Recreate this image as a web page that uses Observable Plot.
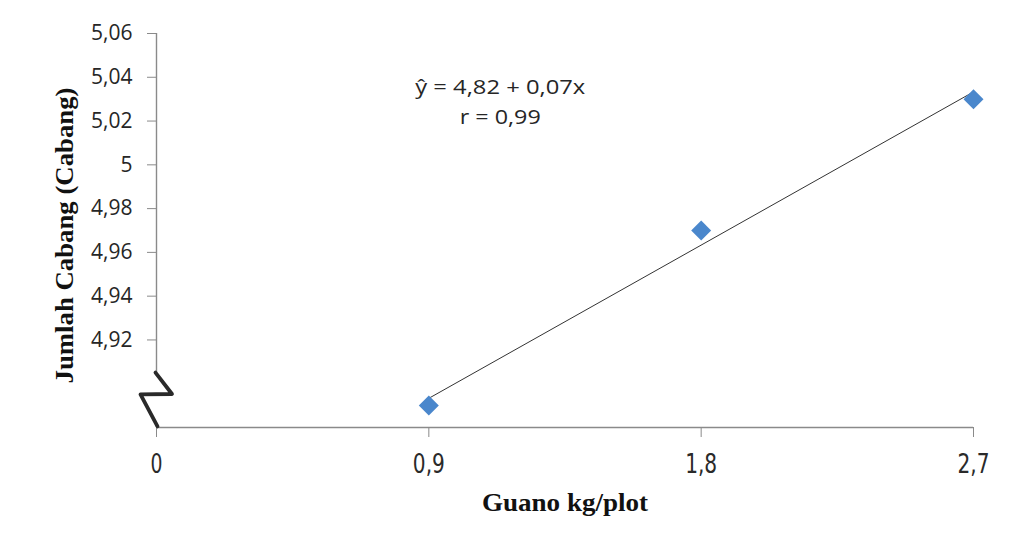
<!DOCTYPE html>
<html>
<head>
<meta charset="utf-8">
<script src="https://cdn.jsdelivr.net/npm/d3@7"></script>
<script src="https://cdn.jsdelivr.net/npm/@observablehq/plot@0.6"></script>
<style>
  html, body { margin: 0; padding: 0; background: #fff; }
</style>
</head>
<body>
<div id="chart"></div>
<script>
// Data
const dosis = [0.9, 1.8, 2.7];           // Guano kg/plot
const cabang = [4.89, 4.97, 5.03];       // Jumlah Cabang
const xTicks = [0, 0.9, 1.8, 2.7];
const yTicks = [4.92, 4.94, 4.96, 4.98, 5.00, 5.02, 5.04, 5.06];
const annotation = ["ŷ = 4,82 + 0,07x", "r = 0,99"];
const annotationX = [1.136, 1.136];
const annotationY = [5.0355, 5.0215];
// axis-break glyph (data units)
const breakX = [-0.0033, 0.0512, -0.0529, 0.0033];
const breakY = [4.9051, 4.8953, 4.8951, 4.8805];

const fmt = v => (+v.toFixed(2)).toString().replace(".", ",");
const pts = dosis.map((x, i) => ({x, y: cabang[i]}));
const ann = annotation.map((t, i) => ({t, x: annotationX[i], y: annotationY[i]}));
const brk = breakX.map((x, i) => ({x, y: breakY[i]}));

const axisColor = "#8a8a8a";

const plot = Plot.plot({
  width: 1027,
  height: 539,
  marginLeft: 156,
  marginRight: 54,
  marginTop: 33,
  marginBottom: 112,
  style: {background: "#fff", overflow: "visible"},
  x: {type: "linear", domain: [0, 2.7], label: null},
  y: {type: "linear", domain: [4.88, 5.06], label: null},
  marks: [
    Plot.ruleX([0], {stroke: axisColor, strokeWidth: 1.4}),
    Plot.ruleY([4.88], {stroke: axisColor, strokeWidth: 1.4}),
    Plot.axisY({ticks: yTicks, tickFormat: fmt, tickSize: 9, tickPadding: 15, stroke: axisColor, color: "#262626",
      fontSize: 21, fontFamily: "'Open Sans', Lato, sans-serif", label: null}),
    Plot.axisX({ticks: xTicks, tickFormat: fmt, tickSize: 10, tickPadding: 17, stroke: axisColor, color: "#2a2a2a",
      fontSize: 26, fontFamily: "'Liberation Sans Narrow', 'Arial Narrow', 'DejaVu Sans Condensed', sans-serif", label: null}),
    // axis break
    Plot.rect([{}], {x1: -0.008, x2: 0.008, y1: 4.8812, y2: 4.9048, fill: "#fff"}),
    Plot.line(brk, {x: "x", y: "y", stroke: "#2a2a2a", strokeWidth: 3.8, strokeLinejoin: "round", strokeLinecap: "round"}),
    Plot.linearRegressionY(pts, {x: "x", y: "y", stroke: "#333", strokeWidth: 1, ci: 0}),
    Plot.dot(pts, {x: "x", y: "y", symbol: "diamond2", r: 9, fill: "#4a87cc", stroke: "none"}),
    Plot.text(ann, {x: "x", y: "y", text: "t", fontSize: 20.5, fill: "#262626", fontFamily: "'Open Sans', Lato, sans-serif"}),
    Plot.text(["Guano kg/plot"], {frameAnchor: "bottom", dy: 83, fontSize: 26, fontWeight: "bold",
      fontFamily: "'Liberation Serif', serif", fill: "#111", textAnchor: "middle"}),
    Plot.text(["Jumlah Cabang (Cabang)"], {frameAnchor: "left", dx: -92, dy: 5, rotate: -90, fontSize: 26, fontWeight: "bold",
      fontFamily: "'Liberation Serif', serif", fill: "#111", textAnchor: "middle"})
  ]
});
// match the reference's stretched / condensed text widths
const lengths = {"ŷ = 4,82 + 0,07x": 170, "r = 0,99": 81, "Guano kg/plot": 166, "Jumlah Cabang (Cabang)": 296,
  "0": 12, "0,9": 32, "1,8": 32, "2,7": 32};
plot.querySelectorAll("text").forEach(t => {
  const s = t.textContent;
  if (lengths[s]) { t.setAttribute("textLength", lengths[s]); t.setAttribute("lengthAdjust", "spacingAndGlyphs"); }
});
document.getElementById("chart").appendChild(plot);
</script>
</body>
</html>
